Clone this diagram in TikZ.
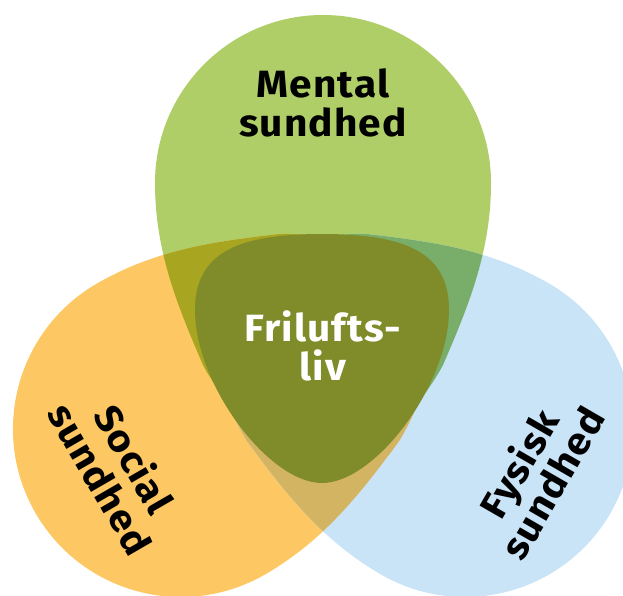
\documentclass[tikz,border=0pt]{standalone}
\usepackage{fontspec}
\setmainfont{Fira Sans}[BoldFont={* Bold}, FakeStretch=1.07, LetterSpace=3]
\usepackage{xcolor}
\definecolor{xgreen}{HTML}{AFCE67}
\definecolor{xorange}{HTML}{FDC863}
\definecolor{xblue}{HTML}{C9E3F7}
\definecolor{xolive}{HTML}{A8A521}
\definecolor{xteal}{HTML}{79AE6A}
\definecolor{xtan}{HTML}{D3B462}
\definecolor{xcentre}{HTML}{808B2A}
\tikzset{
	petal/.style={line width=0pt},
	healthtext/.style={font=\fontsize{38}{39}\selectfont\bfseries, align=center, inner sep=0pt},
}
% one petal, pointing down, round end up
\newcommand{\droppath}{(0,-128) .. controls (40,-120) and (95,-65) .. (120,-18)
	.. controls (145,40) and (168,95) .. (168,164)
	.. controls (168,256.8) and (92.8,332) .. (0,332)
	.. controls (-92.8,332) and (-168,256.8) .. (-168,164)
	.. controls (-168,95) and (-145,40) .. (-120,-18)
	.. controls (-95,-65) and (-40,-120) .. (0,-128) -- cycle}

\begin{document}
\begin{tikzpicture}[x=1pt, y=1pt]
	\clip (0,0) rectangle (623,595);
	% Petals
	\begin{scope}[shift={(323,248)}]
		\fill[xgreen] \droppath;
		\fill[xorange, rotate=120] \droppath;
		\fill[xblue, rotate=-120] \droppath;
		% Overlaps
		\begin{scope}
			\clip \droppath;
			\fill[xolive, rotate=120] \droppath;
			\fill[xteal, rotate=-120] \droppath;
		\end{scope}
		\begin{scope}
			\clip[rotate=120] \droppath;
			\fill[xtan, rotate=-120] \droppath;
		\end{scope}
	\end{scope}

	% Centre
	\fill[xcentre] (322,361) .. controls (405,361) and (449,343) .. (449,285)
		.. controls (449,210) and (375,112) .. (322,112)
		.. controls (269,112) and (195,210) .. (195,285)
		.. controls (195,343) and (239,361) .. (322,361) -- cycle;

	\node[healthtext] (mental) at (323,492.5) {Mental\\sundhed};
	\node[healthtext, rotate=-60] (social) at (118,126.5) {Social\\sundhed};
	\node[healthtext, rotate=60] (fysisk) at (535,122) {Fysisk\\sundhed};
	\node[healthtext, text=white] (friluft) at (323,249.5) {Frilufts-\\liv};
\end{tikzpicture}
\end{document}
